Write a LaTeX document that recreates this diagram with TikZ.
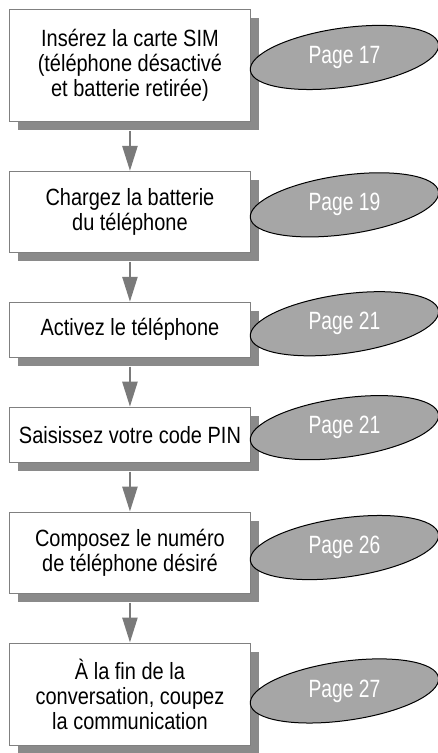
\documentclass[tikz,border=0pt]{standalone}
\usepackage{fontspec}
\newfontfamily\stepfont[FakeStretch=0.85]{Liberation Sans}
\newfontfamily\pagefont[FakeStretch=0.77]{Liberation Sans}
\usetikzlibrary{positioning,shadows,arrows.meta,calc}

\definecolor{shadowgray}{HTML}{8A8A8A}
\definecolor{ovalgray}{HTML}{A6A6A6}
\definecolor{arrowgray}{HTML}{7A7A7A}
\definecolor{framegray}{HTML}{808080}

\begin{document}
\begin{tikzpicture}[x=1pt,y=1pt,>={Triangle[length=25pt,width=15pt]},node distance=49pt,
    step node/.style={rectangle,draw=framegray,line width=0.9pt,fill=white,minimum width=241pt,align=center,inner sep=0pt,font=\stepfont\fontsize{23.5}{25}\selectfont,
        drop shadow={shadow xshift=9pt,shadow yshift=-9pt,fill=shadowgray,opacity=1}},
    page oval/.style={draw=black,line width=1pt,fill=ovalgray},
    page node/.style={text=white,font=\pagefont\fontsize{25}{25}\selectfont}]

    \useasboundingbox (0,0) rectangle (438,-753);

    \node[step node,minimum height=112pt,anchor=north west] (1) at (9,-9) {Insérez la carte SIM\\(téléphone désactivé\\et batterie retirée)};
    \node[step node,minimum height=81pt] (2) [below = of 1] {Chargez la batterie\\du téléphone};
    \node[step node,minimum height=55pt] (3) [below = of 2] {Activez le téléphone};
    \node[step node,minimum height=55pt] (4) [below = of 3] {Saisissez votre code PIN};
    \node[step node,minimum height=81pt] (5) [below = of 4] {Composez le numéro\\de téléphone désiré};
    \node[step node,minimum height=102pt] (6) [below = of 5] {À la fin de la\\conversation, coupez\\la communication};

    \foreach \curr [
        evaluate = \curr as \next using {int(\curr+1)}
    ] in {1,...,5}{
        \draw[->,arrowgray,line width=2.5pt,shorten <=9pt] (\curr.south) -- (\next.north);
    }

    \foreach \curr/\pg/\dy in {1/17/8,2/19/7,3/21/6,4/21/7,5/26/5,6/27/3}{
        \path (\curr.center) ++(214.5,\dy) coordinate (c\curr);
        \draw[page oval,rotate around={8:(c\curr)}] (c\curr) ellipse [x radius=95, y radius=29.5];
        \node[page node] (p\curr) at (c\curr) {Page \pg};
    }

\end{tikzpicture}
\end{document}
